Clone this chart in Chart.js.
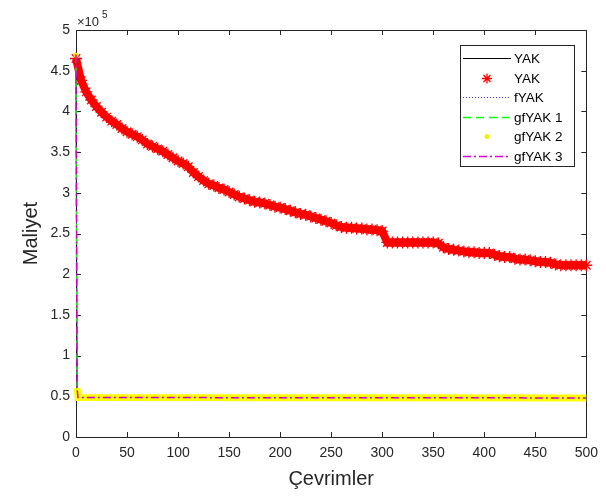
<!DOCTYPE html>
<html>
<head>
<meta charset="utf-8">
<script src="https://cdn.jsdelivr.net/npm/chart.js@4/dist/chart.umd.min.js"></script>
<style>
  html, body { margin: 0; padding: 0; background: #fff; }
</style>
</head>
<body>
<canvas id="c" width="606" height="498"></canvas>
<script>
// YAK (yıldız işaretli) - her 5 çevrimde okunan maliyet değerleri
const starIter = [
  0, 5, 10, 15, 20, 25, 30, 35, 40, 45, 50, 55, 60, 65, 70, 75, 80, 85, 90, 95,
  100, 105, 110, 115, 120, 125, 130, 135, 140, 145, 150, 155, 160, 165, 170, 175, 180, 185, 190, 195,
  200, 205, 210, 215, 220, 225, 230, 235, 240, 245, 250, 255, 260, 265, 270, 275, 280, 285, 290, 295,
  300, 305, 310, 315, 320, 325, 330, 335, 340, 345, 350, 355, 360, 365, 370, 375, 380, 385, 390, 395,
  400, 405, 410, 415, 420, 425, 430, 435, 440, 445, 450, 455, 460, 465, 470, 475, 480, 485, 490, 495, 500
];
const starCost = [
  465000, 438000, 424000, 414000, 406000, 399000, 393000, 388000, 384000, 379000,
  375000, 372000, 369000, 365000, 360000, 357000, 354000, 351000, 347000, 343000,
  339000, 336000, 332000, 325000, 320000, 315000, 311000, 309000, 306000, 304000,
  301000, 298000, 295000, 293000, 291000, 289000, 288000, 287000, 285000, 283000,
  282000, 280000, 278000, 276000, 274000, 273000, 271000, 269000, 267000, 265000,
  263000, 260000, 258000, 257000, 257000, 256000, 256000, 255000, 255000, 254000,
  253000, 239000, 239000, 239000, 239000, 239000, 239000, 239000, 239000, 239000,
  239000, 238000, 233000, 231000, 230000, 229000, 228000, 227000, 227000, 226000,
  226000, 226000, 224000, 222000, 221000, 221000, 219000, 218000, 218000, 217000,
  216000, 215000, 215000, 214000, 212000, 211000, 211000, 211000, 211000, 211000, 211000
];

// diğer yöntemler: ilk çevrimde hızla düşüp sabit kalıyor
const lineIter = [0, 1, 2, 500];
const yakCost = [470000, 60000, 48500, 48000];
const fYakCost = [470000, 60000, 48500, 48000];
const gfYak1Cost = [470000, 60000, 48500, 48000];
const gfYak2Cost = [469000, 60000, 48500, 48000];
const gfYak3Cost = [470000, 60000, 48500, 48000];

const xTicks = [0, 50, 100, 150, 200, 250, 300, 350, 400, 450, 500];
const yMax = 500000;

const AXIS = '#262626';
const FONT = '"Liberation Sans", Arial, sans-serif';

const pts = (xs, ys) => xs.map((x, i) => ({ x: x, y: ys[i] }));

const datasets = [
  { label: 'YAK', data: pts(lineIter, yakCost), borderColor: '#000000', borderWidth: 1, pointRadius: 0, order: 6, clip: false },
  { label: 'YAK', data: pts(starIter, starCost), showLine: true, borderColor: '#ff0000', borderWidth: 8,
    pointStyle: 'star', pointRadius: 6, pointBorderColor: '#ff0000', pointBorderWidth: 1.3,
    backgroundColor: '#ff0000', order: 5, clip: false },
  { label: 'fYAK', data: pts(lineIter, fYakCost), borderColor: '#3b3bd0', borderWidth: 1, borderDash: [1, 2], pointRadius: 0, order: 4, clip: false },
  { label: 'gfYAK 1', data: pts(lineIter, gfYak1Cost), borderColor: '#00ff00', borderWidth: 1.5, borderDash: [8, 5], pointRadius: 0, order: 3, clip: false },
  { label: 'gfYAK 2', data: pts(lineIter, gfYak2Cost), borderColor: '#ffff00', borderWidth: 7,
    pointRadius: [2.5, 0, 0, 0], pointBorderWidth: 0, pointBackgroundColor: '#f2f200', clip: false,
    segment: { borderColor: ctx => ctx.p0DataIndex === 0 ? 'rgba(0,0,0,0)' : '#ffff00' }, order: 2 },
  { label: 'gfYAK 3', data: pts(lineIter, gfYak3Cost), borderColor: '#d000d0', borderWidth: 1.5, borderDash: [8, 3, 2, 3], pointRadius: 0, order: 1, clip: false }
];

// MATLAB tarzı kutu ve içe dönük tikler (verinin altında)
const frame = {
  id: 'frame',
  beforeDatasetsDraw(chart) {
    const { ctx, chartArea: a, scales: { x, y } } = chart;
    ctx.save();
    ctx.strokeStyle = AXIS;
    ctx.lineWidth = 1;
    ctx.strokeRect(Math.round(a.left) + 0.5, Math.round(a.top) + 0.5,
      Math.round(a.right - a.left), Math.round(a.bottom - a.top));
    ctx.beginPath();
    x.ticks.forEach(t => {
      const px = Math.round(x.getPixelForValue(t.value)) + 0.5;
      ctx.moveTo(px, a.bottom); ctx.lineTo(px, a.bottom - 5);
      ctx.moveTo(px, a.top); ctx.lineTo(px, a.top + 5);
    });
    y.ticks.forEach(t => {
      const py = Math.round(y.getPixelForValue(t.value)) + 0.5;
      ctx.moveTo(a.left, py); ctx.lineTo(a.left + 5, py);
      ctx.moveTo(a.right, py); ctx.lineTo(a.right - 5, py);
    });
    ctx.stroke();

    // eksen başlıkları
    ctx.fillStyle = AXIS;
    ctx.font = '20px ' + FONT;
    ctx.textAlign = 'center';
    ctx.textBaseline = 'middle';
    ctx.fillText('Çevrimler', (a.left + a.right) / 2, 479);
    ctx.save();
    ctx.translate(31, (a.top + a.bottom) / 2);
    ctx.rotate(-Math.PI / 2);
    ctx.fillText('Maliyet', 0, 0);
    ctx.restore();

    // ×10^5
    ctx.textAlign = 'left';
    ctx.font = '13px ' + FONT;
    ctx.fillText('\u00d710', a.left + 1, 22);
    ctx.font = '10px ' + FONT;
    ctx.fillText('5', a.left + 26, 15);
    ctx.restore();
  },
  // gösterge
  afterDatasetsDraw(chart) {
    const ctx = chart.ctx;
    const lx = 460, ly = 45, lw = 114, lh = 121;
    ctx.save();
    ctx.fillStyle = '#ffffff';
    ctx.fillRect(lx, ly, lw, lh);
    ctx.strokeStyle = AXIS;
    ctx.lineWidth = 1;
    ctx.strokeRect(lx + 0.5, ly + 0.5, lw, lh);
    ctx.font = '13.5px ' + FONT;
    ctx.textAlign = 'left';
    ctx.textBaseline = 'middle';
    chart.data.datasets.forEach((ds, i) => {
      const ry = Math.round(ly + 13 + i * 19.6) + 0.5;
      const x0 = lx + 3, x1 = lx + 51, cx = (x0 + x1) / 2;
      ctx.save();
      if (i === 1) {
        ctx.strokeStyle = '#ff0000'; ctx.lineWidth = 1.3;
        ctx.beginPath();
        for (let k = 0; k < 4; k++) {
          const ang = k * Math.PI / 4;
          ctx.moveTo(cx - 5 * Math.cos(ang), ry - 5 * Math.sin(ang));
          ctx.lineTo(cx + 5 * Math.cos(ang), ry + 5 * Math.sin(ang));
        }
        ctx.stroke();
      } else if (i === 4) {
        ctx.fillStyle = '#f2f200';
        ctx.beginPath(); ctx.arc(cx, ry, 2.5, 0, Math.PI * 2); ctx.fill();
      } else {
        ctx.strokeStyle = ds.borderColor;
        ctx.lineWidth = ds.borderWidth;
        ctx.setLineDash(ds.borderDash || []);
        ctx.beginPath(); ctx.moveTo(x0, ry); ctx.lineTo(x1, ry); ctx.stroke();
      }
      ctx.restore();
      ctx.fillStyle = '#000000';
      ctx.fillText(ds.label, lx + 54, ry + 1);
    });
    ctx.restore();
  }
};

new Chart(document.getElementById('c'), {
  type: 'line',
  data: { datasets: datasets },
  options: {
    responsive: false,
    animation: false,
    devicePixelRatio: 1,
    layout: { padding: { left: 0, right: 19, top: 30, bottom: 0 } },
    plugins: { legend: { display: false }, tooltip: { enabled: false } },
    scales: {
      x: {
        type: 'linear', min: 0, max: 500,
        afterFit: s => { s.height = 61; },
        afterBuildTicks: s => { s.ticks = xTicks.map(v => ({ value: v })); },
        grid: { display: false, drawTicks: false },
        border: { display: false },
        ticks: { color: AXIS, font: { family: FONT, size: 14 }, padding: 8, maxRotation: 0 }
      },
      y: {
        type: 'linear', min: 0, max: yMax,
        afterFit: s => { s.width = 76; },
        grid: { display: false, drawTicks: false },
        border: { display: false },
        ticks: { stepSize: 50000, color: AXIS, font: { family: FONT, size: 14 }, padding: 6,
          callback: v => String(v / 100000) }
      }
    }
  },
  plugins: [frame]
});
</script>
</body>
</html>
